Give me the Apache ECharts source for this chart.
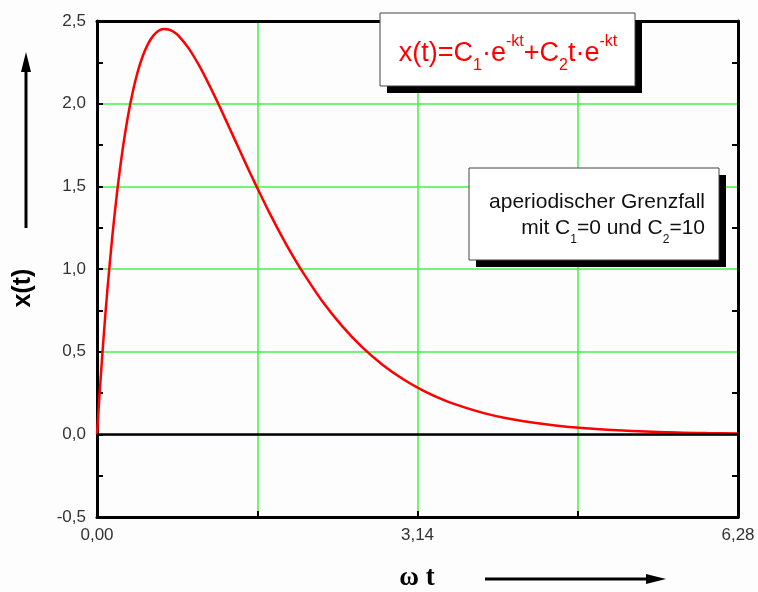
<!DOCTYPE html>
<html>
<head>
<meta charset="utf-8">
<script src="https://cdn.jsdelivr.net/npm/echarts@6/dist/echarts.min.js"></script>
<style>
  html, body { margin: 0; background: #fff; }
  #chart { width: 758px; height: 592px; }
</style>
</head>
<body>
<div id="chart"></div>
<script>
// omega*t values and x(t)
const omegaT = [0, 0.025, 0.05, 0.075, 0.1, 0.15, 0.2, 0.25, 0.3, 0.35, 0.4, 0.45, 0.5, 0.55, 0.6, 0.65,
  0.7, 0.75, 0.8, 0.9, 1.0, 1.1, 1.2, 1.3, 1.4, 1.5, 1.6, 1.7, 1.8, 1.9, 2.0, 2.2,
  2.4, 2.6, 2.8, 3.0, 3.2, 3.4, 3.6, 3.8, 4.0, 4.3, 4.6, 5.0, 5.5, 6.0, 6.28]
const xOfT = [0, 0.241, 0.464, 0.670, 0.861, 1.198, 1.482, 1.718, 1.913, 2.071, 2.195, 2.291, 2.362, 2.410, 2.439, 2.452,
  2.449, 2.435, 2.410, 2.333, 2.231, 2.112, 1.984, 1.850, 1.715, 1.581, 1.452, 1.327, 1.210, 1.099, 0.996, 0.811,
  0.656, 0.526, 0.420, 0.333, 0.263, 0.207, 0.163, 0.127, 0.099, 0.068, 0.046, 0.028, 0.014, 0.007, 0.005]

const xTickValues = [0, 3.14, 6.28]
const xTickLabels = ['0,00', '3,14', '6,28']

const FONT = '"Liberation Sans", Arial, sans-serif'
const GRID_GREEN = '#44f044'

const chart = echarts.init(document.getElementById('chart'))

const yAxisBase = {
  type: 'value',
  min: -0.5,
  max: 2.5,
  interval: 0.5,
  axisLine: { show: true, onZero: false, lineStyle: { color: '#000', width: 3 } },
  axisTick: { show: true, inside: true, length: 6, lineStyle: { color: '#000', width: 2 } },
  minorTick: { show: true, splitNumber: 2, length: 6, lineStyle: { color: '#000', width: 2 } },
}

const option = {
  backgroundColor: '#fdfdfd',
  animation: false,
  grid: { left: 97, top: 21, right: 20, bottom: 75 },
  xAxis: [
    {
      type: 'value',
      min: 0,
      max: 6.28,
      interval: 1.57,
      axisLine: { show: true, onZero: false, lineStyle: { color: '#000', width: 3 } },
      axisTick: { show: true, inside: true, length: 6, lineStyle: { color: '#000', width: 2 } },
      axisLabel: {
        color: '#333',
        fontSize: 17,
        fontFamily: FONT,
        margin: 10,
        showMinLabel: true,
        showMaxLabel: true,
        formatter: (v) => {
          const i = xTickValues.findIndex((t) => Math.abs(t - v) < 0.01)
          return i >= 0 ? xTickLabels[i] : ''
        },
      },
      splitLine: { show: true, lineStyle: { color: GRID_GREEN, width: 1.5 } },
    },
    {
      type: 'value',
      position: 'top',
      min: 0,
      max: 6.28,
      axisLine: { show: true, onZero: false, lineStyle: { color: '#000', width: 3 } },
      axisTick: { show: false },
      axisLabel: { show: false },
      splitLine: { show: false },
    },
  ],
  yAxis: [
    {
      ...yAxisBase,
      axisLabel: {
        color: '#333',
        fontSize: 17,
        fontFamily: FONT,
        margin: 11,
        formatter: (v) => v.toFixed(1).replace('.', ','),
      },
      splitLine: { show: true, lineStyle: { color: GRID_GREEN, width: 1.5 } },
    },
    {
      ...yAxisBase,
      position: 'right',
      axisTick: { show: false, inside: true },
      axisLabel: { show: false },
      splitLine: { show: false },
    },
  ],
  series: [
    {
      type: 'line',
      data: omegaT.map((t, i) => [t, xOfT[i]]),
      smooth: 0.3,
      symbol: 'none',
      lineStyle: { color: '#ff0000', width: 2.5 },
      markLine: {
        silent: true,
        symbol: 'none',
        label: { show: false },
        lineStyle: { color: '#000', width: 2.5, type: 'solid' },
        data: [{ yAxis: 0 }],
      },
      z: 3,
    },
  ],
  graphic: [
    // y axis title with arrow
    {
      type: 'line',
      shape: { x1: 26, y1: 228, x2: 26, y2: 66 },
      style: { stroke: '#000', lineWidth: 3 },
    },
    {
      type: 'polygon',
      shape: { points: [[26, 52], [21, 72], [31, 72]] },
      style: { fill: '#000' },
    },
    {
      type: 'text',
      x: 23,
      y: 288,
      rotation: Math.PI / 2,
      style: {
        text: 'x(t)',
        fontSize: 25,
        fontWeight: 'bold',
        fontFamily: FONT,
        fill: '#000',
        align: 'center',
        verticalAlign: 'middle',
      },
    },
    // x axis title with arrow
    {
      type: 'text',
      x: 417,
      y: 578,
      style: {
        text: 'ω t',
        fontSize: 27,
        fontWeight: 'bold',
        fontFamily: '"Liberation Serif", "Times New Roman", serif',
        fill: '#000',
        align: 'center',
        verticalAlign: 'middle',
      },
    },
    {
      type: 'line',
      shape: { x1: 485, y1: 579, x2: 650, y2: 579 },
      style: { stroke: '#000', lineWidth: 3 },
    },
    {
      type: 'polygon',
      shape: { points: [[666, 579], [646, 574], [646, 584]] },
      style: { fill: '#000' },
    },
    // formula box
    {
      type: 'rect',
      z: 50,
      shape: { x: 387, y: 20, width: 255, height: 73 },
      style: { fill: '#000' },
    },
    {
      type: 'rect',
      z: 51,
      shape: { x: 380, y: 13, width: 255, height: 73 },
      style: { fill: '#fff', stroke: '#444', lineWidth: 1 },
    },
    {
      type: 'text',
      z: 52,
      x: 508,
      y: 54,
      style: {
        text: '{m|x(t)=C}{sub|1}{m|·e}{sup|-kt}{m|+C}{sub|2}{m|t·e}{sup|-kt}',
        align: 'center',
        verticalAlign: 'middle',
        rich: {
          m: { fontSize: 27, fontFamily: FONT, fill: '#ff0000', lineHeight: 40 },
          sup: { fontSize: 16, fontFamily: FONT, fill: '#ff0000', lineHeight: 18, verticalAlign: 'top' },
          sub: { fontSize: 16, fontFamily: FONT, fill: '#ff0000', lineHeight: 18, verticalAlign: 'bottom' },
        },
      },
    },
    // note box
    {
      type: 'rect',
      z: 50,
      shape: { x: 476, y: 175, width: 250, height: 92 },
      style: { fill: '#000' },
    },
    {
      type: 'rect',
      z: 51,
      shape: { x: 469, y: 168, width: 250, height: 92 },
      style: { fill: '#fff', stroke: '#444', lineWidth: 1 },
    },
    {
      type: 'text',
      z: 52,
      x: 705,
      y: 202,
      style: {
        text: 'aperiodischer Grenzfall',
        fontSize: 21,
        fontFamily: FONT,
        fill: '#111',
        align: 'right',
        verticalAlign: 'middle',
      },
    },
    {
      type: 'text',
      z: 52,
      x: 705,
      y: 232,
      style: {
        text: '{m|mit C}{sub|1}{m|=0 und C}{sub|2}{m|=10}',
        align: 'right',
        verticalAlign: 'middle',
        rich: {
          m: { fontSize: 21, fontFamily: FONT, fill: '#111', lineHeight: 28, verticalAlign: 'top' },
          sub: { fontSize: 12, fontFamily: FONT, fill: '#111', lineHeight: 12, verticalAlign: 'bottom' },
        },
      },
    },
  ],
}

chart.setOption(option)
</script>
</body>
</html>
